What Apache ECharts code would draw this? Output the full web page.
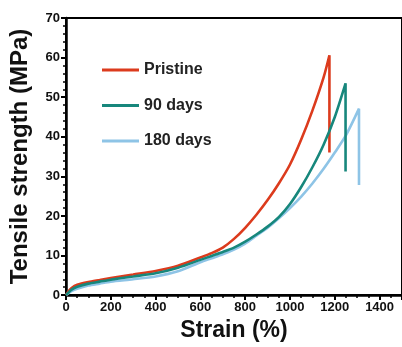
<!DOCTYPE html>
<html>
<head>
<meta charset="utf-8">
<script src="https://cdn.jsdelivr.net/npm/echarts@6/dist/echarts.min.js"></script>
<style>html,body{margin:0;padding:0;background:#fff}#c{width:402px;height:347px}</style>
</head>
<body>
<div id="c"></div>
<script>
const seriesNames = ['Pristine', '90 days', '180 days'];

const pristineStrain = [0,10,25,50,100,150,200,300,400,500,600,650,700,750,800,850,900,950,1000,1050,1100,1150,1176,1176];
const pristineStress = [0,0.9,1.8,2.6,3.3,3.8,4.3,5.2,6.1,7.4,9.5,10.6,12.0,14.2,17.0,20.3,24.0,28.2,33.0,39.3,46.6,55.0,60.6,36];

const days90Strain = [0,10,25,50,100,150,200,300,400,500,600,650,700,750,800,850,900,950,1000,1050,1100,1150,1200,1248,1248];
const days90Stress = [0,0.6,1.4,2.1,2.9,3.4,3.9,4.7,5.5,6.9,8.9,9.9,10.9,12.0,13.5,15.3,17.3,19.7,23.0,27.3,32.3,38.0,45.0,53.5,31.2];

const days180Strain = [0,10,25,50,100,150,200,300,400,500,600,650,700,750,800,850,900,950,1000,1050,1100,1150,1200,1250,1308,1308];
const days180Stress = [0,0.4,1.0,1.6,2.4,2.9,3.4,4.0,4.7,6.0,8.3,9.3,10.3,11.5,13.0,15.0,17.0,19.4,22.0,24.9,28.2,31.9,36.0,40.4,47.1,27.8];

const colors = ['#dc3b1d', '#17877c', '#8ec4e6'];

function pairs(xs, ys) { return xs.map((x, i) => [x, ys[i]]); }

const chart = echarts.init(document.getElementById('c'), null, {renderer: 'canvas'});
const axisFont = {fontFamily: 'Liberation Sans, Arial, sans-serif', fontWeight: 'bold', color: '#111'};

chart.setOption({
  animation: false,
  backgroundColor: '#fff',
  grid: {left: 63, right: -2, top: 18, bottom: 50, show: true, borderColor: '#000', borderWidth: 2, backgroundColor: 'transparent'},
  legend: {
    orient: 'vertical', left: 102, top: 61, padding: 0, itemWidth: 37, itemHeight: 3, itemGap: 17.5,
    icon: 'rect',
    textStyle: {fontFamily: 'Liberation Sans, Arial, sans-serif', fontWeight: 'bold', fontSize: 16, lineHeight: 18, color: '#222'},
    data: seriesNames.map((n, i) => ({name: n, itemStyle: {color: colors[i]}}))
  },
  xAxis: {
    type: 'value', min: 0, max: 1500, interval: 200,
    name: 'Strain (%)', nameLocation: 'middle', nameGap: 18,
    nameTextStyle: Object.assign({fontSize: 23}, axisFont),
    axisLine: {lineStyle: {color: '#000', width: 2.5}},
    axisTick: {show: true, length: 5, lineStyle: {width: 2, color: '#000'}},
    minorTick: {show: true, splitNumber: 4, length: 3, lineStyle: {width: 1.5, color: '#000'}},
    splitLine: {show: false},
    axisLabel: Object.assign({fontSize: 13, margin: 6, showMaxLabel: false, formatter: v => String(v)}, axisFont)
  },
  yAxis: {
    type: 'value', min: 0, max: 70, interval: 10,
    name: 'Tensile strength (MPa)', nameLocation: 'middle', nameGap: 34,
    nameTextStyle: Object.assign({fontSize: 24}, axisFont),
    axisLine: {show: true, lineStyle: {color: '#000', width: 2.5}},
    axisTick: {show: true, length: 5, lineStyle: {width: 2, color: '#000'}},
    minorTick: {show: true, splitNumber: 5, length: 3, lineStyle: {width: 1.5, color: '#000'}},
    splitLine: {show: false},
    axisLabel: Object.assign({fontSize: 13, margin: 6, formatter: v => String(v)}, axisFont)
  },
  series: [
    {name: seriesNames[0], type: 'line', symbol: 'none', smooth: 0.25, data: pairs(pristineStrain, pristineStress), lineStyle: {width: 2.6, color: colors[0]}, itemStyle: {color: colors[0]}, z: 3},
    {name: seriesNames[1], type: 'line', symbol: 'none', smooth: 0.25, data: pairs(days90Strain, days90Stress), lineStyle: {width: 2.6, color: colors[1]}, itemStyle: {color: colors[1]}, z: 4},
    {name: seriesNames[2], type: 'line', symbol: 'none', smooth: 0.25, data: pairs(days180Strain, days180Stress), lineStyle: {width: 2.6, color: colors[2]}, itemStyle: {color: colors[2]}, z: 2}
  ]
});
</script>
</body>
</html>
